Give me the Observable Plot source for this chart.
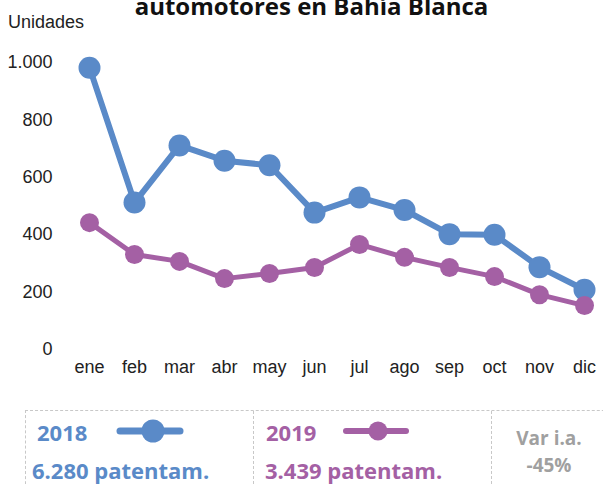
<!DOCTYPE html>
<html><head><meta charset="utf-8">
<script src="https://cdn.jsdelivr.net/npm/d3@7"></script>
<script src="https://cdn.jsdelivr.net/npm/@observablehq/plot@0.6"></script>
<style>
body{margin:0;background:#fff;}
#wrap{position:relative;width:603px;height:484px;overflow:hidden;background:#fff;}
#chart{position:absolute;left:0;top:0;}
.narrow{font-family:"Liberation Sans",Arial,sans-serif;}
#title{position:absolute;left:0;width:603px;top:-6px;text-align:center;padding-left:20px;box-sizing:border-box;font-family:"Open Sans",sans-serif;font-weight:700;font-size:24px;line-height:24px;color:#111;white-space:nowrap;}
#unid{position:absolute;left:8px;top:10px;font-size:18px;line-height:24px;color:#222;}
#legend{position:absolute;left:25px;top:410px;width:640px;height:120px;border:1px dashed #c8c8c8;box-sizing:border-box;font-family:"Open Sans",sans-serif;font-weight:700;}
.div{position:absolute;top:0;bottom:0;border-left:1px dashed #c8c8c8;}
.t{position:absolute;white-space:nowrap;line-height:24px;}
</style></head>
<body>
<div id="wrap">
  <div id="chart"></div>
  <div id="title">automotores en Bahía Blanca</div>
  <div id="unid" class="narrow">Unidades</div>
  <div id="legend">
    <div class="div" style="left:227px"></div>
    <div class="div" style="left:465px"></div>
    <div class="t" style="left:11px;top:9px;font-size:22px;color:#5A8AC8">2018</div>
    <svg style="position:absolute;left:88px;top:6px" width="72" height="28"><line x1="6" y1="14" x2="66" y2="14" stroke="#5A8AC8" stroke-width="7" stroke-linecap="round"/><circle cx="39" cy="14" r="11.5" fill="#5A8AC8"/></svg>
    <div class="t" style="left:6px;top:47px;font-size:22px;color:#5A8AC8">6.280 patentam.</div>
    <div class="t" style="left:240px;top:9px;font-size:22px;color:#A460A4">2019</div>
    <svg style="position:absolute;left:314px;top:6px" width="72" height="28"><line x1="6" y1="14" x2="66" y2="14" stroke="#A460A4" stroke-width="6" stroke-linecap="round"/><circle cx="38" cy="14" r="9.5" fill="#A460A4"/></svg>
    <div class="t" style="left:239px;top:47px;font-size:22px;color:#A460A4">3.439 patentam.</div>
    <div class="t" style="left:473px;width:100px;text-align:center;top:15px;font-size:19px;color:#a0a0a0">Var i.a.</div>
    <div class="t" style="left:473px;width:100px;text-align:center;top:42px;font-size:19px;color:#a0a0a0">-45%</div>
  </div>
</div>
<script>
const months = ["ene","feb","mar","abr","may","jun","jul","ago","sep","oct","nov","dic"];
const v2018 = [982, 512, 711, 658, 642, 477, 530, 486, 402, 400, 287, 208];
const v2019 = [442, 331, 307, 247, 265, 286, 366, 321, 286, 254, 191, 153];
const gridTicks = [200, 400, 600, 800, 1000];
const yTicks = [0, 200, 400, 600, 800, 1000];
const colors = {"2018": "#5A8AC8", "2019": "#A460A4"};

const rows = months.flatMap((m, i) => [
  {month: m, year: "2018", value: v2018[i]},
  {month: m, year: "2019", value: v2019[i]}
]);
const fmt = d3.formatLocale({decimal: ",", thousands: ".", grouping: [3], currency: ["$", ""]}).format(",");

const plot = Plot.plot({
  width: 603,
  height: 390,
  marginTop: 62,
  marginBottom: 41,
  marginLeft: 62,
  marginRight: 0,
  style: {fontFamily: '"Liberation Sans",Arial,sans-serif', fontSize: "18px", color: "#222", background: "transparent"},
  x: {type: "point", domain: months, range: [85, 587], padding: 0},
  y: {domain: [0, 1000], range: [349, 62]},
  marks: [
    Plot.ruleY(gridTicks, {stroke: "#cfcfcf", strokeDasharray: "5,4", strokeWidth: 1, x1: () => 62, x2: () => 603, x: null}),
    Plot.ruleY([0], {stroke: "#a0a0a0", strokeWidth: 1.5, x1: () => 62, x2: () => 603, x: null}),
    Plot.axisY(yTicks, {tickSize: 0, tickPadding: 10, tickFormat: fmt, label: null, fill: "#222"}),
    Plot.axisX(months, {tickSize: 0, tickPadding: 11, label: null, fill: "#222"}),
    Plot.line(rows.filter(d => d.year === "2018"), {x: "month", y: "value", stroke: colors["2018"], strokeWidth: 6, curve: "linear"}),
    Plot.line(rows.filter(d => d.year === "2019"), {x: "month", y: "value", stroke: colors["2019"], strokeWidth: 5, curve: "linear"}),
    Plot.dot(rows.filter(d => d.year === "2018"), {x: "month", y: "value", r: 11, fill: colors["2018"], stroke: "none"}),
    Plot.dot(rows.filter(d => d.year === "2019"), {x: "month", y: "value", r: 9.5, fill: colors["2019"], stroke: "none"})
  ]
});
document.getElementById("chart").appendChild(plot);
</script>
</body></html>
